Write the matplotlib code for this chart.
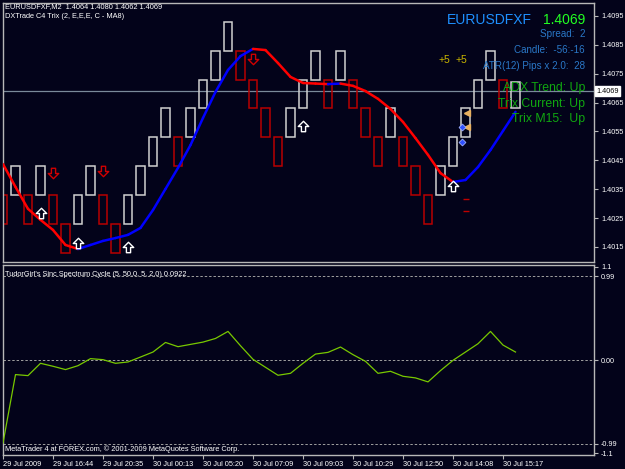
import matplotlib
matplotlib.use("Agg")
import matplotlib.pyplot as plt
from matplotlib.path import Path
import numpy as np

BG = '#03031a'
GRID = '#b8b8b8'
FONT = 'Liberation Sans'

# renko boxes (index 1..42)
box_low = [1.4023, 1.4033, 1.4023, 1.4033, 1.4023, 1.4013, 1.4023, 1.4033, 1.4023, 1.4013,
           1.4023, 1.4033, 1.4043, 1.4053, 1.4043, 1.4053, 1.4063, 1.4073, 1.4083, 1.4073,
           1.4063, 1.4053, 1.4043, 1.4053, 1.4063, 1.4073, 1.4063, 1.4073, 1.4063, 1.4053,
           1.4043, 1.4053, 1.4043, 1.4033, 1.4023, 1.4033, 1.4043, 1.4053, 1.4063, 1.4073,
           1.4063, 1.4063]
box_high = [lo + 0.0010 for lo in box_low[:-1]] + [1.4072]
box_up = [0, 1, 0, 1, 0, 0, 1, 1, 0, 0,
          1, 1, 1, 1, 0, 1, 1, 1, 1, 0,
          0, 0, 0, 1, 1, 1, 0, 1, 0, 0,
          0, 1, 0, 0, 0, 1, 1, 1, 1, 1,
          0, 1]

# Trix MA line
ma = [1.40437, 1.40358, 1.40282, 1.40244, 1.40209, 1.40157, 1.40143, 1.40157, 1.40171, 1.40181,
      1.40192, 1.40216, 1.40278, 1.40351, 1.40424, 1.40503, 1.40597, 1.40687, 1.40763, 1.40811,
      1.40836, 1.40832, 1.40787, 1.40739, 1.40718, 1.40716, 1.40714, 1.40716, 1.40708, 1.40690,
      1.40663, 1.40628, 1.40583, 1.40527, 1.40469, 1.40406, 1.40375, 1.40382, 1.40427, 1.40486,
      1.40552, 1.40618]

# signal arrows
up_idx = [4, 7, 11, 25, 37]
up_price = [1.40268, 1.40164, 1.40150, 1.40569, 1.40361]
dn_idx = [5, 9, 21]
dn_price = [1.40406, 1.40413, 1.40801]

tri_idx = [38.1, 38.1]
tri_price = [1.40615, 1.40566]
dia_idx = [37.75, 37.75]
dia_price = [1.40566, 1.40515]
dash_idx = [38, 38]
dash_price = [1.40316, 1.40275]

# sinc spectrum cycle
sinc = [-0.98, -0.172, -0.184, -0.039, -0.074, -0.113, -0.067, 0.016, 0.004, -0.039,
        -0.023, 0.035, 0.094, 0.207, 0.157, 0.184, 0.211, 0.254, 0.337, 0.168,
        0.008, -0.086, -0.18, -0.157, -0.039, 0.07, 0.09, 0.153, 0.063, -0.016,
        -0.157, -0.133, -0.192, -0.211, -0.258, -0.125, -0.004, 0.094, 0.192, 0.337,
        0.176, 0.094]

price_ticks = [1.4095, 1.4085, 1.4075, 1.4065, 1.4055, 1.4045, 1.4035, 1.4025, 1.4015]
time_idx = [1, 5, 9, 13, 17, 21, 25, 29, 33, 37, 41]
time_labels = ['29 Jul 2009', '29 Jul 16:44', '29 Jul 20:35', '30 Jul 00:13', '30 Jul 05:20',
               '30 Jul 07:09', '30 Jul 09:03', '30 Jul 10:29', '30 Jul 12:50', '30 Jul 14:08',
               '30 Jul 15:17']
last_price = 1.4069

W, H = 625, 469
fig = plt.figure(figsize=(W / 100, H / 100), dpi=100, facecolor=BG)


def px_rect(x0, y0, x1, y1):
    return [x0 / W, 1 - y1 / H, (x1 - x0) / W, (y1 - y0) / H]


ax = fig.add_axes(px_rect(3, 3, 594, 262), facecolor=BG)
ax2 = fig.add_axes(px_rect(3, 265, 594, 455), facecolor=BG)

xmax = 1 + 591 / 12.5
for a in (ax, ax2):
    a.set_xlim(1, xmax)
    for s in a.spines.values():
        s.set_color(GRID)
        s.set_linewidth(1)
    a.yaxis.tick_right()
    a.tick_params(axis='y', colors=GRID, labelcolor='white', length=3, width=0.8,
                  labelsize=5.2, pad=2)

ax.set_ylim(1.40098, 1.40995)
ax.set_xticks([])
ax.set_yticks(price_ticks)
ax.set_yticklabels(['%.4f' % p for p in price_ticks], fontfamily=FONT, fontsize=5.2)

# current price line
ax.axhline(last_price, color='#7a8a9a', lw=0.9, zorder=1)
ax.text(1.004, last_price, '%.4f' % last_price, transform=ax.get_yaxis_transform(),
        ha='left', va='center', fontsize=5.2, fontfamily=FONT, color='black',
        bbox=dict(boxstyle='square,pad=0.15', fc='white', ec='white'), clip_on=False, zorder=6)

# renko boxes
bw = 0.66
for i, (lo, hi, up) in enumerate(zip(box_low, box_high, box_up)):
    col = '#d0d0d0' if up else '#b80000'
    ax.add_patch(plt.Rectangle((i + 1 - bw / 2, lo), bw, hi - lo, fill=False,
                               ec=col, lw=1.1, zorder=2))

# ma line coloured by direction
xs = np.arange(1, len(ma) + 1)
for k in range(len(ma) - 1):
    c = '#0000ff' if ma[k + 1] > ma[k] else '#ff0000'
    ax.plot(xs[k:k + 2], ma[k:k + 2], color=c, lw=1.8, zorder=3, solid_capstyle='round')

# hollow block arrows
arrow_up = Path([(0, 0.5), (0.5, 0), (0.2, 0), (0.2, -0.5), (-0.2, -0.5),
                 (-0.2, 0), (-0.5, 0), (0, 0.5)], closed=True)
arrow_dn = Path([(x, -y) for x, y in arrow_up.vertices], closed=True)
ax.plot(up_idx, up_price, ls='none', marker=arrow_up, ms=7.5, mfc=BG, mec='white',
        mew=1, zorder=4)
ax.plot(dn_idx, dn_price, ls='none', marker=arrow_dn, ms=7.5, mfc=BG, mec='#d00000',
        mew=1, zorder=4)

ax.plot(tri_idx, tri_price, ls='none', marker='<', ms=4, color='#e8b060', zorder=5)
ax.plot(dia_idx, dia_price, ls='none', marker='D', ms=3.5, color='#3050ff', mec='#a0b0ff',
        mew=0.6, zorder=5)
ax.plot(dash_idx, dash_price, ls='none', marker='_', ms=5, mew=1, color='#c00000', zorder=5)

for xi in (36.3, 37.7):
    ax.text(xi, 1.40798, '+5', color='#c8b400', fontsize=7.5, fontfamily=FONT,
            ha='center', va='center', zorder=5)


# info panel
def ftext(x, y, s, **kw):
    fig.text(x / W, 1 - y / H, s, fontfamily=FONT, va='center', **kw)


ftext(5, 7, 'EURUSDFXF,M2  1.4064 1.4080 1.4062 1.4069', color='white', fontsize=5.3)
ftext(5, 16, 'DXTrade C4 Trix (2, E,E,E, C - MA8)', color='white', fontsize=5.3)
ftext(447, 20, 'EURUSDFXF', color='#1e90ff', fontsize=10)
ftext(585, 20, '1.4069', color='#22ff22', fontsize=10, ha='right')
ftext(585, 34, 'Spread:  2', color='#2a78c8', fontsize=7.1, ha='right')
ftext(585, 50, 'Candle:  -56:-16', color='#2a78c8', fontsize=7.1, ha='right')
ftext(585, 66, 'ATR(12) Pips x 2.0:  28', color='#2a78c8', fontsize=7.1, ha='right')
ftext(585, 88, 'ADX Trend: Up', color='#10a810', fontsize=8.8, ha='right')
ftext(585, 104, 'Trix Current: Up', color='#10a810', fontsize=8.8, ha='right')
ftext(585, 119, 'Trix M15:  Up', color='#10a810', fontsize=8.8, ha='right')

# sub window
ax2.set_ylim(-1.12, 1.12)
for lv in (0.99, 0.0, -0.99):
    ax2.axhline(lv, color='#a0a0a0', lw=0.7, ls=(0, (2.5, 2)), zorder=1)
ax2.plot(xs, sinc, color='#78c800', lw=0.9, zorder=3)
ax2.set_yticks([1.1, 0.99, 0.0, -0.99, -1.1])
ax2.set_yticklabels(['1.1', '0.99', '0.00', '-0.99', '-1.1'], fontfamily=FONT, fontsize=5.2)
ax2.set_xticks(time_idx)
ax2.set_xticklabels(time_labels, ha='left', fontfamily=FONT, fontsize=5.3)
ax2.tick_params(axis='x', colors=GRID, labelcolor='white', length=3, width=0.8, pad=1)
ax2.text(0.004, 0.95, "TudorGirl's Sinc Spectrum Cycle (5, 50,0, 5, 2,0) 0.0922",
         transform=ax2.transAxes, color='white', fontsize=5.3, fontfamily=FONT, va='center')
ax2.text(0.004, 0.03, 'MetaTrader 4 at FOREX.com, \u00a9 2001-2009 MetaQuotes Software Corp.',
         transform=ax2.transAxes, color='white', fontsize=5.3, fontfamily=FONT, va='center')

fig.savefig('out.png', dpi=100, facecolor=BG)
